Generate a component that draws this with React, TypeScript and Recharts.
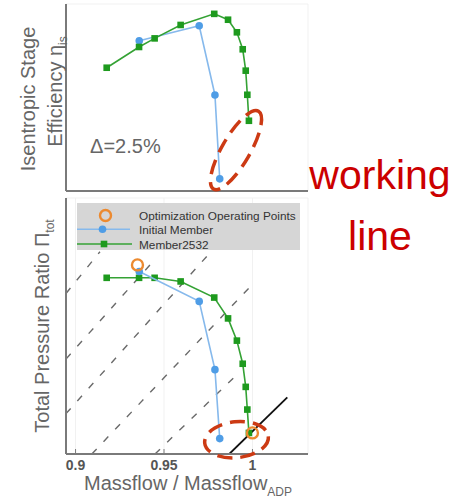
import React from 'react';
import {
  ComposedChart,
  Scatter,
  XAxis,
  YAxis,
  CartesianGrid,
  ReferenceLine,
  ReferenceDot,
  Legend,
} from 'recharts';

// ---------- data ----------
const massflowMember2532 = [0.9176, 0.9359, 0.9447, 0.9594, 0.9784, 0.9862, 0.9912, 0.9945, 0.9962, 0.9971, 0.998];
const efficiencyMember2532 = [0.8733, 0.8832, 0.8873, 0.8937, 0.899, 0.8962, 0.8902, 0.8821, 0.8719, 0.8604, 0.848];
const pressureMember2532 = [1.3696, 1.3696, 1.3696, 1.368, 1.3609, 1.3517, 1.3419, 1.3317, 1.3215, 1.3115, 1.3012];

const massflowInitial = [0.936, 0.9699, 0.9788, 0.9815];
const efficiencyInitial = [0.8862, 0.8933, 0.8603, 0.8203];
const pressureInitial = [1.3724, 1.3592, 1.3291, 1.2987];

const massflowOptPoints = [0.935, 1.0];
const pressureOptPoints = [1.3753, 1.3012];

const xTicks = [0.9, 0.95, 1];
const efficiencyTicks = [0.825, 0.85, 0.875, 0.9];
const pressureTicks = [1.3, 1.35, 1.4];

const throttleLineStartMassflow = [0.8946, 0.8946, 0.8946, 0.9092, 0.9449];
const throttleLineStartPressure = [1.3627, 1.3338, 1.3097, 1.2919, 1.2919];
const throttleLineEndMassflow = [0.9138, 0.9421, 0.9749, 1.0003, 0.9929];
const throttleLineEndPressure = [1.3811, 1.3753, 1.3797, 1.367, 1.3282];

const workingLineMassflow = [0.9869, 1.0197];
const workingLinePressure = [1.2919, 1.3169];

const highlightEfficiency = { x: 0.9907, y: 0.834 };
const highlightPressure = { x: 0.991, y: 1.2982 };
const deltaNote = { x: 0.9082, y: 0.8326, text: 'Δ=2.5%' };

const legendLabels = ['Optimization Operating Points', 'Initial Member', 'Member2532'];

// ---------- styles ----------
const FONT = '"Liberation Sans", Arial, Helvetica, sans-serif';
const GREEN = '#1e9a1e';
const GREEN_LINE = '#34a234';
const BLUE = '#4f9de6';
const BLUE_LINE = '#86b9ec';
const ORANGE = '#ec8a30';
const RED = '#cc3a14';
const AXIS = '#7a7a7a';
const TEXT_GRAY = '#666666';

const xDomain: [number, number] = [0.8946, 1.0314];

const zip = (xs: number[], ys: number[]) => xs.map((x, i) => ({ x, y: ys[i] }));

const memberEff = zip(massflowMember2532, efficiencyMember2532);
const memberPr = zip(massflowMember2532, pressureMember2532);
const initialEff = zip(massflowInitial, efficiencyInitial);
const initialPr = zip(massflowInitial, pressureInitial);
const optPr = zip(massflowOptPoints, pressureOptPoints);

const SquareShape = (p: any) => (
  <rect x={p.cx - 3.3} y={p.cy - 3.3} width={6.6} height={6.6} fill={GREEN} />
);
const CircleShape = (p: any) => <circle cx={p.cx} cy={p.cy} r={3.8} fill={BLUE} />;
const OpenCircleShape = (p: any) => (
  <circle cx={p.cx} cy={p.cy} r={5.5} fill="none" stroke={ORANGE} strokeWidth={2.4} />
);

const TopYLabel = (props: any) => {
  const vb = props.viewBox || { x: 0, y: 4, width: 66, height: 187 };
  const cy = vb.y + vb.height / 2;
  return (
    <g fontFamily={FONT} fill={TEXT_GRAY} fontSize={20}>
      <text x={35} y={cy + 1.5} textAnchor="middle" transform={`rotate(-90, 35, ${cy + 1.5})`}>
        Isentropic Stage
      </text>
      <text x={62} y={cy - 6} textAnchor="middle" transform={`rotate(-90, 62, ${cy - 6})`}>
        Efficiency η
        <tspan fontSize={12} dy={5}>is</tspan>
      </text>
    </g>
  );
};

const BottomYLabel = (props: any) => {
  const vb = props.viewBox || { x: 0, y: 8, width: 66, height: 256 };
  const cy = vb.y + vb.height / 2;
  return (
    <text
      x={49}
      y={cy}
      textAnchor="middle"
      transform={`rotate(-90, 49, ${cy})`}
      fontFamily={FONT}
      fill={TEXT_GRAY}
      fontSize={20}
    >
      Total Pressure Ratio Π
      <tspan fontSize={12} dy={5}>tot</tspan>
    </text>
  );
};

const BottomXLabel = (props: any) => {
  const vb = props.viewBox || { x: 66, y: 264, width: 242, height: 45 };
  const cx = vb.x + vb.width / 2 + 1;
  return (
    <text x={cx} y={vb.y + 36} textAnchor="middle" fontFamily={FONT} fill={TEXT_GRAY} fontSize={20}>
      Massflow / Massflow
      <tspan fontSize={12} dy={6}>ADP</tspan>
    </text>
  );
};

const TopEllipse = (p: any) => (
  <ellipse
    cx={p.cx}
    cy={p.cy}
    rx={45}
    ry={14}
    transform={`rotate(-60, ${p.cx}, ${p.cy})`}
    fill="none"
    stroke={RED}
    strokeWidth={3.5}
    strokeDasharray="15 8"
  />
);

const BottomEllipse = (p: any) => (
  <ellipse
    cx={p.cx}
    cy={p.cy}
    rx={32}
    ry={18}
    transform={`rotate(-6, ${p.cx}, ${p.cy})`}
    fill="none"
    stroke={RED}
    strokeWidth={3.5}
    strokeDasharray="15 8"
  />
);

const DeltaText = (p: any) => (
  <text x={p.cx} y={p.cy} fontFamily={FONT} fontSize={20} fill={TEXT_GRAY}>
    {deltaNote.text}
  </text>
);

const LegendBox = () => (
  <div style={{ width: 223, height: 47, background: '#d6d6d6' }}>
    <svg width={223} height={47} style={{ display: 'block' }}>
      <circle cx={28.5} cy={12.5} r={5.5} fill="none" stroke={ORANGE} strokeWidth={2.4} />
      <line x1={0} x2={53} y1={26.3} y2={26.3} stroke={BLUE_LINE} strokeWidth={1.6} />
      <circle cx={25.5} cy={26.3} r={3.8} fill={BLUE} />
      <line x1={0} x2={55} y1={41} y2={41} stroke={GREEN_LINE} strokeWidth={1.6} />
      <rect x={23.7} y={37.7} width={6.6} height={6.6} fill={GREEN} />
      <g fontFamily={FONT} fontSize={11.8} fill="#333">
        <text x={62} y={17}>{legendLabels[0]}</text>
        <text x={62} y={31}>{legendLabels[1]}</text>
        <text x={62} y={45.5}>{legendLabels[2]}</text>
      </g>
    </svg>
  </div>
);

export default function App() {
  return (
    <div
      style={{
        position: 'absolute',
        left: 0,
        top: 0,
        width: 469,
        height: 499,
        background: '#fff',
        fontFamily: FONT,
      }}
    >
      {/* Top panel: isentropic efficiency */}
      <div style={{ position: 'absolute', left: 0, top: 0 }}>
        <ComposedChart width={469} height={200} margin={{ top: 4, right: 161, bottom: 0, left: 0 }}>
          <CartesianGrid stroke="#f1f1f1" strokeWidth={1} />
          <XAxis
            type="number"
            dataKey="x"
            domain={xDomain}
            ticks={xTicks}
            allowDataOverflow
            height={9}
            tick={false}
            tickSize={-5}
            tickLine={{ stroke: AXIS }}
            axisLine={{ stroke: AXIS, strokeWidth: 2 }}
          />
          <YAxis
            type="number"
            dataKey="y"
            domain={[0.8145, 0.9037]}
            ticks={efficiencyTicks}
            allowDataOverflow
            width={66}
            tick={false}
            tickSize={-6}
            tickLine={{ stroke: AXIS, strokeWidth: 1.5 }}
            axisLine={{ stroke: AXIS, strokeWidth: 2 }}
            label={{ content: TopYLabel }}
          />
          <Scatter
            name="Initial Member"
            data={initialEff}
            line={{ stroke: BLUE_LINE, strokeWidth: 1.6 }}
            lineType="joint"
            shape={CircleShape}
            isAnimationActive={false}
          />
          <Scatter
            name="Member2532"
            data={memberEff}
            line={{ stroke: GREEN_LINE, strokeWidth: 1.6 }}
            lineType="joint"
            shape={SquareShape}
            isAnimationActive={false}
          />
          <ReferenceDot
            x={deltaNote.x}
            y={deltaNote.y}
            r={0}
            ifOverflow="visible"
            shape={DeltaText}
          />
          <ReferenceDot
            x={highlightEfficiency.x}
            y={highlightEfficiency.y}
            r={0}
            ifOverflow="visible"
            shape={TopEllipse}
          />
        </ComposedChart>
      </div>

      {/* Bottom panel: total pressure ratio */}
      <div style={{ position: 'absolute', left: 0, top: 190 }}>
        <ComposedChart width={469} height={309} margin={{ top: 8, right: 161, bottom: 0, left: 0 }}>
          <CartesianGrid stroke="#f1f1f1" strokeWidth={1} />
          <XAxis
            type="number"
            dataKey="x"
            domain={xDomain}
            ticks={xTicks}
            allowDataOverflow
            height={45}
            tickSize={-5}
            tickMargin={11}
            tickLine={{ stroke: AXIS }}
            axisLine={{ stroke: AXIS, strokeWidth: 2 }}
            tick={{ fontSize: 14, fontWeight: 'bold', fill: '#555', fontFamily: FONT }}
            label={{ content: BottomXLabel }}
          />
          <YAxis
            type="number"
            dataKey="y"
            domain={[1.2919, 1.4048]}
            ticks={pressureTicks}
            allowDataOverflow
            width={66}
            tick={false}
            tickSize={-7}
            tickLine={{ stroke: AXIS, strokeWidth: 1.5 }}
            axisLine={{ stroke: AXIS, strokeWidth: 2 }}
            label={{ content: BottomYLabel }}
          />
          {throttleLineStartMassflow.map((x0, i) => (
            <ReferenceLine
              key={`thr-${i}`}
              segment={[
                { x: x0, y: throttleLineStartPressure[i] },
                { x: throttleLineEndMassflow[i], y: throttleLineEndPressure[i] },
              ]}
              stroke="#6a6a6a"
              strokeWidth={1.4}
              strokeDasharray="7 10"
              ifOverflow="hidden"
            />
          ))}
          <ReferenceLine
            segment={[
              { x: workingLineMassflow[0], y: workingLinePressure[0] },
              { x: workingLineMassflow[1], y: workingLinePressure[1] },
            ]}
            stroke="#111"
            strokeWidth={1.8}
            ifOverflow="hidden"
          />
          <Scatter
            name="Member2532"
            data={memberPr}
            line={{ stroke: GREEN_LINE, strokeWidth: 1.6 }}
            lineType="joint"
            shape={SquareShape}
            isAnimationActive={false}
          />
          <Scatter
            name="Initial Member"
            data={initialPr}
            line={{ stroke: BLUE_LINE, strokeWidth: 1.6 }}
            lineType="joint"
            shape={CircleShape}
            isAnimationActive={false}
          />
          <Scatter
            name="Optimization Operating Points"
            data={optPr}
            shape={OpenCircleShape}
            isAnimationActive={false}
          />
          <ReferenceDot
            x={highlightPressure.x}
            y={highlightPressure.y}
            r={0}
            ifOverflow="visible"
            shape={BottomEllipse}
          />
          <Legend
            layout="vertical"
            align="center"
            verticalAlign="middle"
            content={LegendBox}
            wrapperStyle={{ position: 'absolute', left: 77, top: 13, width: 223, height: 47 }}
          />
        </ComposedChart>
      </div>

      {/* annotation text */}
      <div
        style={{
          position: 'absolute',
          left: 300,
          width: 160,
          top: 145,
          textAlign: 'center',
          color: '#cc0000',
          fontSize: 41,
          lineHeight: '61px',
          fontFamily: FONT,
        }}
      >
        working
        <br />
        line
      </div>
    </div>
  );
}
